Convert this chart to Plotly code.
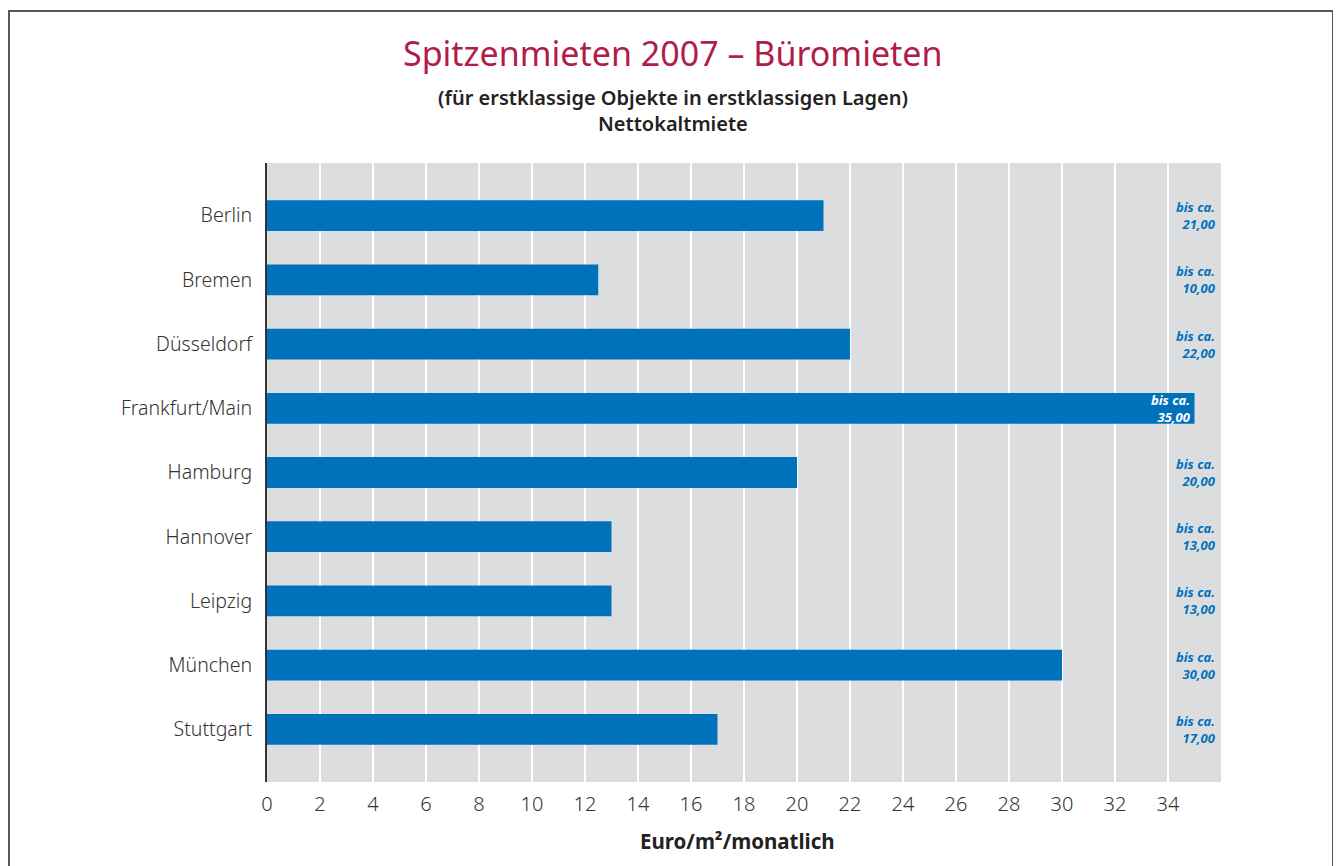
import plotly.graph_objects as go

cities = ["Berlin", "Bremen", "Düsseldorf", "Frankfurt/Main", "Hamburg",
          "Hannover", "Leipzig", "München", "Stuttgart"]
rents = [21.0, 12.5, 22.0, 35.0, 20.0, 13.0, 13.0, 30.0, 17.0]
label_values = ["21,00", "10,00", "22,00", "35,00", "20,00", "13,00", "13,00", "30,00", "17,00"]
x_ticks = list(range(0, 35, 2))

BLUE = "#0072BC"
GRAY = "#DCDDDF"
FONT = "Noto Sans"

fig = go.Figure()
fig.add_trace(go.Bar(
    y=cities, x=rents, orientation="h",
    marker=dict(color=BLUE, line=dict(width=0)),
    width=0.48, hoverinfo="skip",
))

annotations = []
for i, (c, v, lab) in enumerate(zip(cities, rents, label_values)):
    inside = v >= 34
    annotations.append(dict(
        x=(v - 0.05) if inside else 35.9, y=c, xref="x", yref="y",
        xanchor="right", yanchor="middle", showarrow=False, align="right",
        text=f"<b><i>bis ca.<br>{lab}</i></b>",
        font=dict(family=FONT, size=13, color="white" if inside else BLUE),
    ))

annotations += [
    dict(text="Spitzenmieten 2007 – Büromieten", x=0.4256, y=1.178, xref="paper", yref="paper",
         xanchor="center", yanchor="middle", showarrow=False,
         font=dict(family=FONT, size=34, color="#B01C4B")),
    dict(text="(für erstklassige Objekte in erstklassigen Lagen)", x=0.4256, y=1.1066,
         xref="paper", yref="paper", xanchor="center", yanchor="middle", showarrow=False,
         font=dict(family=FONT, size=20, color="#222222", weight=600)),
    dict(text="Nettokaltmiete", x=0.4256, y=1.0646,
         xref="paper", yref="paper", xanchor="center", yanchor="middle", showarrow=False,
         font=dict(family=FONT, size=20, color="#222222", weight=600)),
    dict(text="<b>Euro/m²/monatlich</b>", x=0.493, y=-0.0953,
         xref="paper", yref="paper", xanchor="center", yanchor="middle", showarrow=False,
         font=dict(family=FONT, size=20.5, color="#222222")),
]

fig.update_layout(
    width=1333, height=858,
    margin=dict(l=259, r=120, t=155, b=84),
    paper_bgcolor="white", plot_bgcolor=GRAY,
    showlegend=False,
    annotations=annotations,
    shapes=[dict(type="rect", xref="paper", yref="paper",
                 x0=-0.2705, x1=1.1174, y0=-0.3, y1=1.2456,
                 line=dict(color="#555555", width=2), fillcolor="rgba(0,0,0,0)",
                 layer="below")],
    xaxis=dict(range=[0, 36], tickvals=x_ticks, showgrid=True, gridcolor="white",
               gridwidth=2, zeroline=False, showline=False,
               ticks="outside", ticklen=4, tickcolor="rgba(0,0,0,0)",
               tickfont=dict(family=FONT, size=20, color="#333333", weight=300),
               fixedrange=True),
    yaxis=dict(categoryorder="array", categoryarray=cities, range=[8.82, -0.82],
               showgrid=False, zeroline=False, showline=True, linecolor="#333333",
               linewidth=2, ticks="", ticklabelstandoff=9,
               tickfont=dict(family=FONT, size=19.5, color="#333333", weight=300),
               fixedrange=True),
    font=dict(family=FONT),
)

fig.write_html("out.html")
